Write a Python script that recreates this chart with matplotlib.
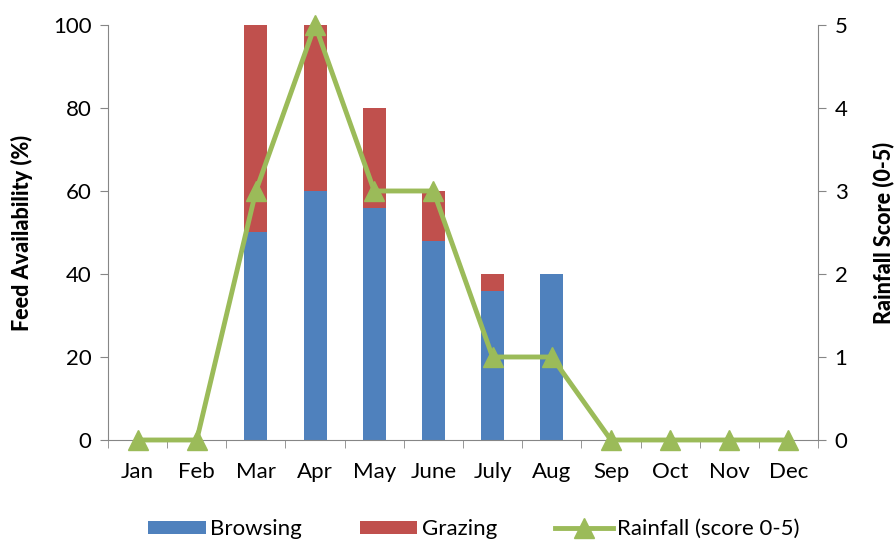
import matplotlib
matplotlib.use("Agg")
import matplotlib.pyplot as plt
import numpy as np

months = ["Jan", "Feb", "Mar", "Apr", "May", "June", "July", "Aug", "Sep", "Oct", "Nov", "Dec"]
browsing = [0, 0, 50, 60, 56, 48, 36, 40, 0, 0, 0, 0]
grazing = [0, 0, 50, 40, 24, 12, 4, 0, 0, 0, 0, 0]
rainfall = [0, 0, 3, 5, 3, 3, 1, 1, 0, 0, 0, 0]

plt.rcParams['font.family'] = ['Lato', 'DejaVu Sans']

fig = plt.figure(figsize=(8.94, 5.43), dpi=100)
ax = fig.add_axes([0.1208, 0.1897, 0.7942, 0.7643])
x = np.arange(len(months))
blue = "#4F81BD"
red = "#C0504D"
green = "#9BBB59"
b1 = ax.bar(x, browsing, width=0.39, color=blue, label="Browsing", zorder=2)
b2 = ax.bar(x, grazing, width=0.39, bottom=browsing, color=red, label="Grazing", zorder=2)
ax.set_xlim(-0.5, 11.5)
ax.set_ylim(0, 100)
ax.set_yticks([0, 20, 40, 60, 80, 100])
ax.set_xticks(x)
ax.set_xticklabels(months)
ax.set_xticks(np.arange(-0.5, 12, 1), minor=True)
ax.tick_params(axis='x', which='major', length=0, pad=16, labelsize=16)
ax.tick_params(axis='x', which='minor', length=6, color='#868686', direction='out')
ax.tick_params(axis='y', length=6, color='#868686', labelsize=16, pad=6)
for s in ['top', 'right']:
    ax.spines[s].set_visible(False)
for s in ['left', 'bottom']:
    ax.spines[s].set_color('#868686')
ax.set_ylabel("Feed Availability (%)", fontsize=15.5, fontweight='black', labelpad=14)

ax2 = ax.twinx()
l1, = ax2.plot(x, rainfall, color=green, lw=3.5, marker='^', markersize=14,
               label="Rainfall (score 0-5)", clip_on=False, zorder=3)
ax2.set_ylim(0, 5)
ax2.set_yticks([0, 1, 2, 3, 4, 5])
ax2.tick_params(axis='y', length=6, color='#868686', labelsize=16, pad=6)
for s in ['top', 'left', 'bottom']:
    ax2.spines[s].set_visible(False)
ax2.spines['right'].set_color('#868686')
ax2.set_ylabel("Rainfall Score (0-5)", fontsize=15.5, fontweight='black', labelpad=18)

fig.legend(handles=[b1, b2, l1], loc='lower center', ncol=3, frameon=False,
           fontsize=16, bbox_to_anchor=(0.53, -0.03), handlelength=2.6,
           handleheight=0.55, columnspacing=2.6, handletextpad=0.2)

fig.savefig("out.png", dpi=100)
